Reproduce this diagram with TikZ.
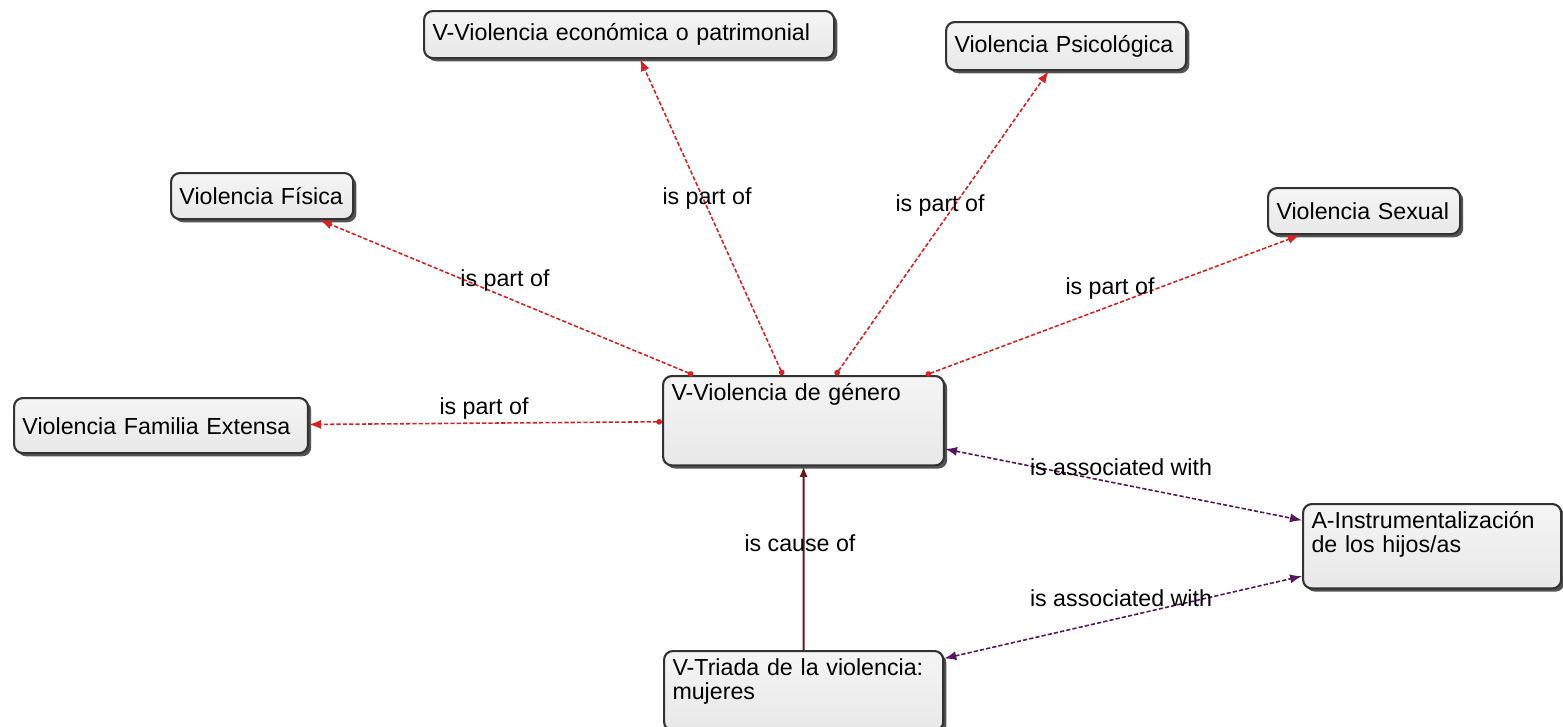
\documentclass[tikz,border=0pt]{standalone}
\usepackage{fontspec}
\setmainfont{Liberation Sans}
\usetikzlibrary{arrows.meta,shadows}
\definecolor{partred}{RGB}{214,34,34}
\definecolor{assocpurple}{RGB}{88,22,92}
\definecolor{causered}{RGB}{105,22,28}
\begin{document}
\begin{tikzpicture}[x=0.01cm, y=-0.01cm,
  box/.style={draw=black!80, line width=0.6pt, rounded corners=2.5pt,
    top color=white!96!black, bottom color=black!9,
    drop shadow={shadow xshift=0.9pt, shadow yshift=-0.9pt, fill=black!75, opacity=0.9},
    anchor=north west, align=left, inner xsep=2.4pt, inner ysep=2pt, text height=5pt,
    font=\fontsize{6.6}{6.8}\selectfont},
  lbl/.style={font=\fontsize{6.6}{6.8}\selectfont, inner sep=0.5pt},
  partof/.style={partred, line width=0.45pt, dash pattern=on 1.2pt off 0.6pt,
    {Circle[length=1.6pt]}-{Latex[length=3.4pt, width=2.6pt]}},
  assoc/.style={assocpurple, line width=0.45pt, dash pattern=on 1.2pt off 0.6pt,
    {Latex[length=3.4pt, width=2.6pt]}-{Latex[length=3.4pt, width=2.6pt]}},
  cause/.style={causered, line width=0.6pt, -{Latex[length=3pt, width=2.4pt]}}]
\useasboundingbox (0,0) rectangle (1563,727);
% concepts
\node[box, text width=111.8pt, minimum height=0.47cm] (eco) at (423,10) {V-Violencia económica o patrimonial};
\node[box, text width=63.5pt, minimum height=0.48cm] (psi) at (945,21) {Violencia Psicológica};
\node[box, text width=47pt, minimum height=0.46cm] (fis) at (170,172) {Violencia Física};
\node[box, text width=49.8pt, minimum height=0.46cm] (sex) at (1267,187) {Violencia Sexual};
\node[box, text width=78.8pt, minimum height=0.55cm] (fam) at (13,397) {Violencia Familia Extensa};
\node[box, text width=75.1pt, text depth=16.4pt] (gen) at (662,375) {V-Violencia de género};
\node[box, text width=68.6pt, text depth=15pt] (ins) at (1302,503) {A-Instrumentalización\\de los hijos/as};
\node[box, text width=74.6pt, text depth=13.6pt] (tri) at (663,650) {V-Triada de la violencia:\\mujeres};
% relations
\draw[partof] (gen) -- (fis);
\draw[partof] (gen) -- (eco);
\draw[partof] (gen) -- (psi);
\draw[partof] (gen) -- (sex);
\draw[partof] (gen) -- (fam);
\draw[assoc] (gen) -- (ins);
\draw[assoc] (tri) -- (ins);
\draw[cause] (tri) -- (gen);
% labels
\node[lbl] (lfis) at (505,280) {is part of};
\node[lbl] (leco) at (707,198) {is part of};
\node[lbl] (lpsi) at (940,205) {is part of};
\node[lbl] (lsex) at (1110,288) {is part of};
\node[lbl] (lfam) at (484,408) {is part of};
\node[lbl] (lins) at (1121,467) {is associated with};
\node[lbl] (ltri) at (1121,598) {is associated with};
\node[lbl] (lcau) at (800,543) {is cause of};
\end{tikzpicture}
\end{document}
